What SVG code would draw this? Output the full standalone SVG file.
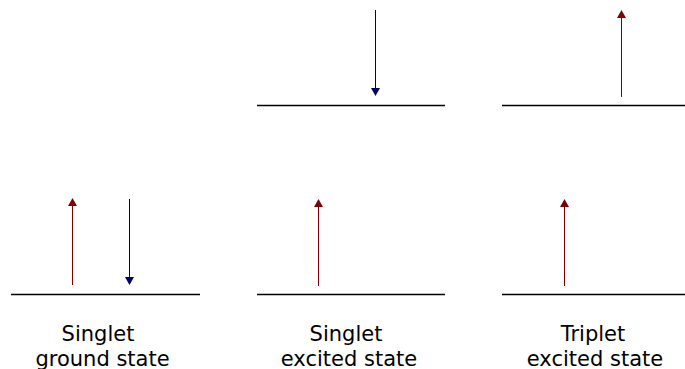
<svg xmlns="http://www.w3.org/2000/svg" width="685" height="369" viewBox="0 0 685 369">
<style>
.lv{stroke:#000;stroke-width:1.3;fill:none}
.up{stroke:#800000;stroke-width:1}
.dn{stroke:#000066;stroke-width:1}
.hu{fill:#800000}
.hd{fill:#000066}
text{font-family:"DejaVu Sans",sans-serif;font-size:21px;text-anchor:middle;fill:#000}
</style>
<g id="ground">
<line class="lv" x1="11" y1="294.5" x2="200" y2="294.5"/>
<text x="98" y="341">Singlet</text>
<text x="102.5" y="366">ground state</text>
</g>
<g id="singlet-excited">
<line class="lv" x1="257" y1="294.5" x2="445" y2="294.5"/>
<line class="lv" x1="257" y1="105.5" x2="445" y2="105.5"/>
<text x="346" y="341">Singlet</text>
<text x="349" y="366">excited state</text>
</g>
<g id="triplet-excited">
<line class="lv" x1="502" y1="294.5" x2="685" y2="294.5"/>
<line class="lv" x1="502" y1="105.5" x2="685" y2="105.5"/>
<text x="593" y="341">Triplet</text>
<text x="595" y="366">excited state</text>
</g>
<g id="connectors">
<line class="up" x1="72.5" y1="285" x2="72.5" y2="204"/>
<polygon class="hu" points="72.5,198 68,206 77,206"/>
<line class="dn" x1="129.5" y1="199" x2="129.5" y2="278"/>
<polygon class="hd" points="129.5,285 125,277 134,277"/>
<line class="up" x1="318.5" y1="286" x2="318.5" y2="205"/>
<polygon class="hu" points="318.5,199 314,207 323,207"/>
<line class="dn" x1="375.5" y1="10" x2="375.5" y2="89"/>
<polygon class="hd" points="375.5,96 371,88 380,88"/>
<line class="up" x1="564.5" y1="286" x2="564.5" y2="205"/>
<polygon class="hu" points="564.5,199 560,207 569,207"/>
<line class="up" x1="621.5" y1="97" x2="621.5" y2="16"/>
<polygon class="hu" points="621.5,10 617,18 626,18"/>
</g>
</svg>
